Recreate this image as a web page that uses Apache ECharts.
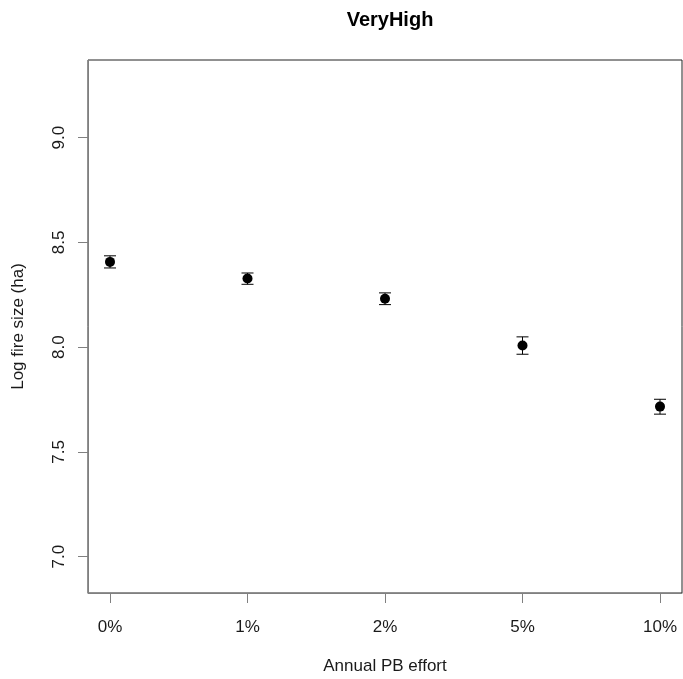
<!DOCTYPE html>
<html><head><meta charset="utf-8">
<script src="https://cdn.jsdelivr.net/npm/echarts@6/dist/echarts.min.js"></script>
<style>html,body{margin:0;padding:0;background:#fff}#c{width:683px;height:679px}</style>
</head><body><div id="c"></div>
<script>
var categories = ['0%', '1%', '2%', '5%', '10%'];
var means = [8.407, 8.328, 8.231, 8.008, 7.716];
var lower = [8.378, 8.300, 8.203, 7.966, 7.680];
var upper = [8.436, 8.354, 8.259, 8.049, 7.751];
var yTicks = [7.0, 7.5, 8.0, 8.5, 9.0];

var xPos = categories.map(function (c, i) { return i + 1; });
var pts = means.map(function (m, i) { return [xPos[i], m]; });
var bars = means.map(function (m, i) { return [xPos[i], lower[i], upper[i]]; });
var font = 'Liberation Sans, Arial, sans-serif';

var chart = echarts.init(document.getElementById('c'));
chart.setOption({
  animation: false,
  backgroundColor: '#fff',
  title: {
    text: 'VeryHigh', left: 385, top: 5, textAlign: 'center',
    textStyle: { fontFamily: font, fontSize: 20, fontWeight: 'bold', color: '#000' }
  },
  grid: { left: 88, right: 1, top: 60, bottom: 86, outerBoundsMode: 'none', containLabel: false,
    show: true, borderColor: '#222', borderWidth: 1, backgroundColor: 'transparent' },
  xAxis: {
    type: 'value', min: 0.84, max: 5.16,
    name: 'Annual PB effort', nameLocation: 'middle', nameGap: 65,
    nameTextStyle: { fontFamily: font, fontSize: 17, color: '#1a1a1a' },
    axisLine: { show: true, lineStyle: { color: '#808080', width: 1 } },
    axisTick: { show: true, inside: false, length: 10, customValues: xPos, lineStyle: { color: '#808080' } },
    axisLabel: { customValues: xPos, margin: 26, fontFamily: font, fontSize: 17, color: '#1a1a1a',
      formatter: function (v) { return categories[Math.round(v) - 1]; } },
    splitLine: { show: false }
  },
  yAxis: {
    type: 'value', min: 6.826, max: 9.371,
    name: 'Log fire size (ha)', nameLocation: 'middle', nameGap: 61, nameRotate: 90,
    nameTextStyle: { fontFamily: font, fontSize: 17, color: '#1a1a1a' },
    axisLine: { show: true, lineStyle: { color: '#808080', width: 1 } },
    axisTick: { show: true, inside: false, length: 10, customValues: yTicks, lineStyle: { color: '#808080' } },
    axisLabel: { customValues: yTicks, rotate: 90, margin: 20, fontFamily: font, fontSize: 17, color: '#1a1a1a',
      formatter: function (v) { return v.toFixed(1); } },
    splitLine: { show: false }
  },
  series: [
    {
      type: 'custom',
      data: bars,
      renderItem: function (params, api) {
        var x = api.value(0);
        var lo = api.coord([x, api.value(1)]);
        var hi = api.coord([x, api.value(2)]);
        var hw = 6;
        var st = { stroke: '#000', lineWidth: 1 };
        return {
          type: 'group',
          children: [
            { type: 'line', shape: { x1: lo[0], y1: lo[1], x2: hi[0], y2: hi[1] }, style: st },
            { type: 'line', shape: { x1: lo[0] - hw, y1: lo[1], x2: lo[0] + hw, y2: lo[1] }, style: st },
            { type: 'line', shape: { x1: hi[0] - hw, y1: hi[1], x2: hi[0] + hw, y2: hi[1] }, style: st }
          ]
        };
      },
      z: 2
    },
    {
      type: 'scatter',
      data: pts,
      symbol: 'circle',
      symbolSize: 10,
      itemStyle: { color: '#000', opacity: 1 },
      z: 3
    }
  ]
});
</script></body></html>
